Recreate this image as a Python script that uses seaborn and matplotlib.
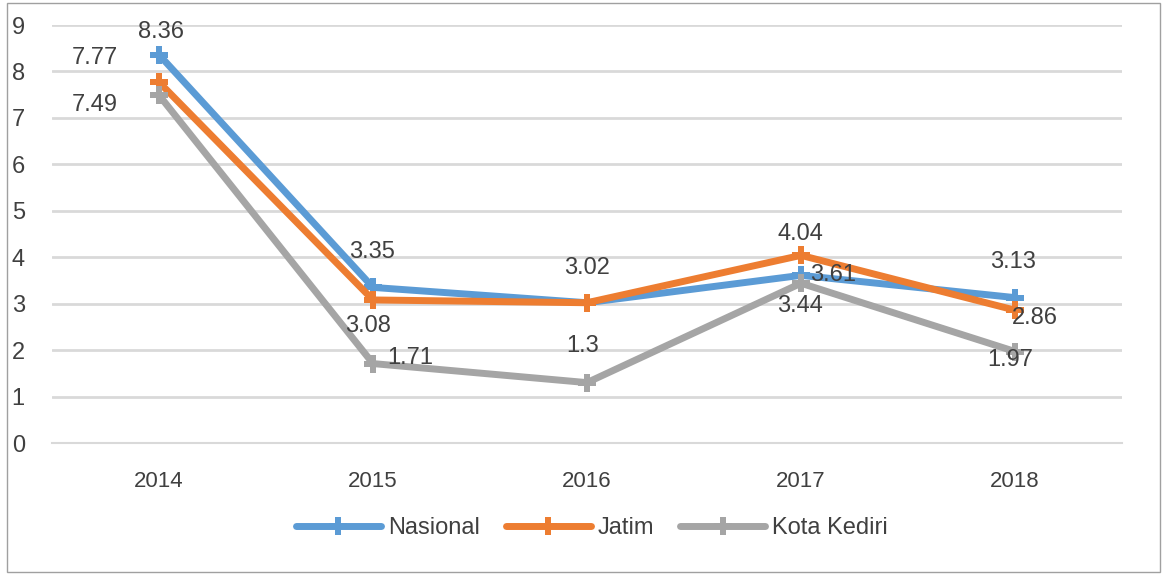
import pandas as pd
import numpy as np
import matplotlib
matplotlib.use('Agg')
import matplotlib.pyplot as plt
import seaborn as sns
from matplotlib.patches import Rectangle

"""Data"""
years = ['2014', '2015', '2016', '2017', '2018']
nasional = [8.36, 3.35, 3.02, 3.61, 3.13]
jatim = [7.77, 3.08, 3.02, 4.04, 2.86]
kota_kediri = [7.49, 1.71, 1.3, 3.44, 1.97]
series_names = ['Nasional', 'Jatim', 'Kota Kediri']
colors = ['#5B9BD5', '#ED7D31', '#A5A5A5']

# label offsets in pixels (dx, dy); None = no label drawn
label_offsets = {
    'Nasional': [(2, 23), (-1, 35), (0, 35), (32, 0), (-2, 36)],
    'Jatim': [(-64, 24), (-5, -26), None, (-1, 21), (20, -8)],
    'Kota Kediri': [(-64, -10), (37, 6), (-4, 37), (-1, -23), (-5, -8)],
}

df = pd.DataFrame({
    'pos': list(range(len(years))) * 3,
    'value': nasional + jatim + kota_kediri,
    'series': [s for s in series_names for _ in years],
})

sns.set_style('white')
plt.rcParams['font.family'] = ['Liberation Sans', 'DejaVu Sans']
txt_color = '#404040'

fig = plt.figure(figsize=(11.63, 5.75), dpi=100)
ax = fig.add_axes([52 / 1163, 1 - 443 / 575, 1070 / 1163, 418 / 575])

sns.lineplot(data=df, x='pos', y='value', hue='series', hue_order=series_names,
             palette=colors, linewidth=5, marker='P', markersize=13,
             markeredgewidth=0, sort=False, ax=ax, legend=True)

for name, vals in zip(series_names, [nasional, jatim, kota_kediri]):
    for i, v in enumerate(vals):
        off = label_offsets[name][i]
        if off is None:
            continue
        ax.annotate(f'{v:g}', (i, v), xytext=off, textcoords='offset pixels',
                    ha='center', va='center', fontsize=17, color=txt_color)

ax.set_xlim(-0.5, 4.5)
ax.set_ylim(0, 9)
ax.set_yticks(range(0, 10))
ax.yaxis.grid(True, color='#d9d9d9', linewidth=2)
ax.set_axisbelow(True)
ax.set_xticks(range(len(years)))
ax.set_xticklabels(years)
ax.set_xticks(np.arange(-0.5, 5, 1), minor=True)
ax.tick_params(axis='x', which='major', length=0, pad=20, labelsize=16, labelcolor=txt_color)
ax.tick_params(axis='x', which='minor', length=8, width=1.5, color='#d9d9d9', direction='out')
ax.tick_params(axis='y', length=0, pad=29, labelsize=17, labelcolor=txt_color)
for lab in ax.get_yticklabels():
    lab.set_horizontalalignment('left')
ax.set_xlabel('')
ax.set_ylabel('')
for side in ['left', 'right', 'top']:
    ax.spines[side].set_visible(False)
ax.spines['bottom'].set_color('#d9d9d9')
ax.spines['bottom'].set_linewidth(1.5)

handles, labels = ax.get_legend_handles_labels()
ax.get_legend().remove()
fig.legend(handles, labels, loc='center', bbox_to_anchor=(592 / 1163, 1 - 528 / 575),
           ncol=3, frameon=False, handlelength=3.6, columnspacing=1.1, handletextpad=0.3,
           prop={'size': 17}, labelcolor=txt_color)

fig.add_artist(Rectangle((7 / 1163, 3 / 575), 1153 / 1163, 569 / 575, transform=fig.transFigure,
                         fill=False, edgecolor='#a0a0a0', linewidth=1))

fig.savefig('out.png', dpi=100)
